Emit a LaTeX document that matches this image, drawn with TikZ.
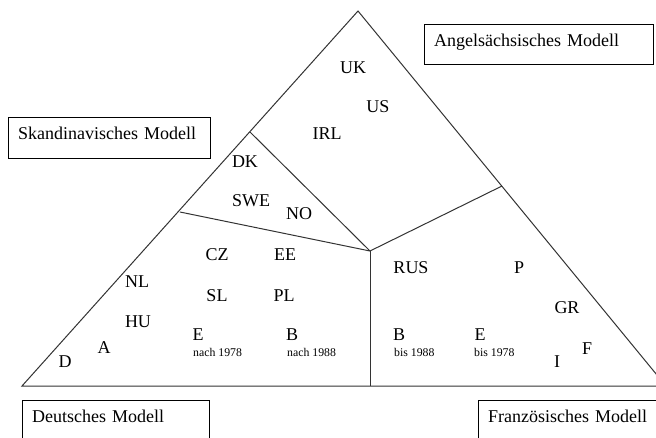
\documentclass[tikz,border=0pt]{standalone}
\usepackage{fontspec}
\setmainfont{Liberation Serif}
\tikzstyle{modell} = [draw, rectangle, anchor=north west, inner xsep=10pt, inner ysep=0pt, text height=22pt, text depth=19pt, align=left, font=\fontsize{18}{20}\selectfont]
\tikzstyle{land} = [inner sep=0pt, font=\fontsize{18}{20}\selectfont]
\tikzstyle{jahr} = [inner sep=0pt, anchor=base west, font=\fontsize{11.8}{13}\selectfont]
\tikzstyle{grenze} = [draw=black!80, line width=1pt]

\begin{document}
\begin{tikzpicture}[x=1pt,y=-1pt]
    \clip (0,0) rectangle (656,437);
    % Dreieck
    \coordinate (L) at (22,386);
    \coordinate (T) at (358,11);
    \coordinate (R) at (666,386);
    \coordinate (M) at (370,251);
    \coordinate (sk) at (250,132);
    \coordinate (de) at (180,212);
    \coordinate (an) at (502,186);
    \coordinate (fr) at (370,386);
    \draw [grenze] (L) -- (T) -- (R) -- cycle;
    \draw [grenze] (sk) -- (M);
    \draw [grenze] (de) -- (M);
    \draw [grenze] (M) -- (an);
    \draw [grenze] (M) -- (fr);

    % Modelle
    \node [modell, text width=182pt] (skandi) at (8,117) {Skandinavisches Modell};
    \node [modell, text width=209pt, text depth=18pt] (angel) at (424,24) {Angelsächsisches Modell};
    \node [modell, text width=167pt, text depth=40pt] (deutsch) at (22,400) {Deutsches Modell};
    \node [modell, text width=200pt, text depth=40pt] (franz) at (478,400) {Französisches Modell};

    % Laender
    \node [land] (uk) at (353,68) {UK};
    \node [land] (us) at (378,107) {US};
    \node [land] (irl) at (327,134) {IRL};
    \node [land] (dk) at (245,162) {DK};
    \node [land] (swe) at (251,201) {SWE};
    \node [land] (no) at (299,214) {NO};
    \node [land] (cz) at (217,255) {CZ};
    \node [land] (ee) at (285,255) {EE};
    \node [land] (nl) at (137,282) {NL};
    \node [land] (sl) at (217,296) {SL};
    \node [land] (pl) at (284,296) {PL};
    \node [land] (hu) at (138,322) {HU};
    \node [land] (eN) at (198,335) {E};
    \node [jahr] (eNj) at (193,356) {nach 1978};
    \node [land] (bN) at (292,335) {B};
    \node [jahr] (bNj) at (287,356) {nach 1988};
    \node [land] (a) at (104,348) {A};
    \node [land] (d) at (65,362) {D};
    \node [land] (rus) at (411,268) {RUS};
    \node [land] (p) at (519,268) {P};
    \node [land] (gr) at (567,308) {GR};
    \node [land] (bB) at (399,335) {B};
    \node [jahr] (bBj) at (394,356) {bis 1988};
    \node [land] (eB) at (480,335) {E};
    \node [jahr] (eBj) at (474,356) {bis 1978};
    \node [land] (f) at (587,349) {F};
    \node [land] (i) at (557,362) {I};
\end{tikzpicture}
\end{document}
